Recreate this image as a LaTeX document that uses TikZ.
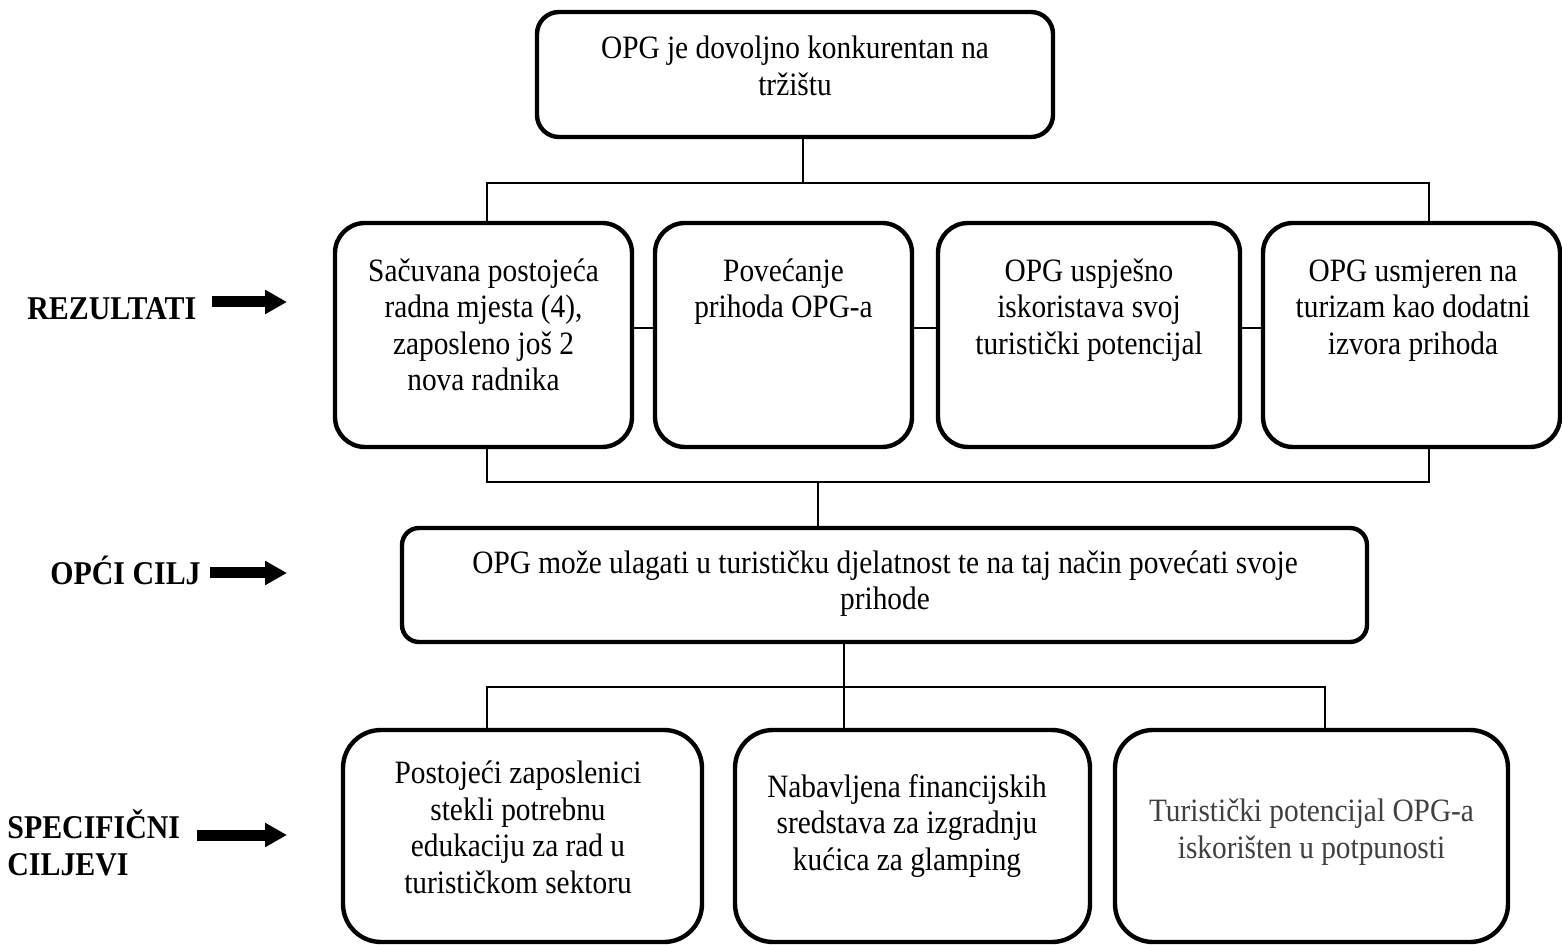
\documentclass[tikz,border=0pt]{standalone}
\usepackage{fontspec}
\setmainfont{Liberation Serif}[FakeStretch=0.9]
\usetikzlibrary{arrows.meta}
\definecolor{txtgray}{HTML}{404040}
\begin{document}
\begin{tikzpicture}[x=0.5pt,y=-0.5pt,
  box/.style={draw, line width=2.2pt, inner sep=0pt, rectangle},
  conn/.style={line width=0.85pt},
  txt/.style={font=\fontsize{16.3}{18.25}\selectfont, align=center, inner sep=0pt, anchor=north},
  lab/.style={font=\fontsize{16.6}{18.25}\selectfont\bfseries, inner sep=0pt},
  bigarrow/.style={line width=5.5pt, -{Triangle[length=11pt,width=11.5pt]}}]
\useasboundingbox (0,0) rectangle (1562,945);

% top box
\node[box, rounded corners=11pt, minimum width=258pt, minimum height=62.5pt] (top) at (795,74.5) {};
\node[txt] (topt) at (795,33) {\strut OPG je dovoljno konkurentan na\\tržištu};

% result boxes
\node[box, rounded corners=15pt, minimum width=148.5pt, minimum height=112pt] (r1) at (483.5,335) {};
\node[box, rounded corners=15pt, minimum width=128.5pt, minimum height=112pt] (r2) at (783.5,335) {};
\node[box, rounded corners=15pt, minimum width=151pt, minimum height=112pt] (r3) at (1089,335) {};
\node[box, rounded corners=15pt, minimum width=148.5pt, minimum height=112pt] (r4) at (1411.5,335) {};
\node[txt] (r1t) at (483.5,255.5) {\strut Sačuvana postojeća\\radna mjesta (4),\\zaposleno još 2\\nova radnika};
\node[txt] (r2t) at (783.5,255.5) {\strut Povećanje\\prihoda OPG-a};
\node[txt] (r3t) at (1089,255.5) {\strut OPG uspješno\\iskoristava svoj\\turistički potencijal};
\node[txt] (r4t) at (1413,255.5) {\strut OPG usmjeren na\\turizam kao dodatni\\izvora prihoda};

% middle box
\node[box, rounded corners=8.5pt, minimum width=482.5pt, minimum height=57pt] (mid) at (884.5,585) {};
\node[txt] (midt) at (885,547.5) {\strut OPG može ulagati u turističku djelatnost te na taj način povećati svoje\\prihode};

% bottom boxes
\node[box, rounded corners=19pt, minimum width=179.5pt, minimum height=106pt] (b1) at (522.5,836) {};
\node[box, rounded corners=19pt, minimum width=177.5pt, minimum height=106pt] (b2) at (912.5,836) {};
\node[box, rounded corners=19pt, minimum width=196.5pt, minimum height=106pt] (b3) at (1311.5,836) {};
\node[txt] (b1t) at (518,758) {\strut Postojeći zaposlenici\\stekli potrebnu\\edukaciju za rad u\\turističkom sektoru};
\node[txt] (b2t) at (907,771.5) {\strut Nabavljena financijskih\\sredstava za izgradnju\\kućica za glamping};
\node[txt, text=txtgray] (b3t) at (1311.5,796) {\strut Turistički potencijal OPG-a\\iskorišten u potpunosti};

% labels
\node[lab, anchor=base west] (l1) at (27,320) {REZULTATI};
\node[lab, anchor=base west] (l2) at (50,585) {OPĆI CILJ};
\node[lab, anchor=north west, align=left] (l3) at (7,809.5) {\strut SPECIFIČNI\\CILJEVI};

% arrows
\coordinate (a1s) at (212,302); \coordinate (a1e) at (287,302);
\coordinate (a2s) at (210,573); \coordinate (a2e) at (287,573);
\coordinate (a3s) at (197,835); \coordinate (a3e) at (287,835);
\draw[bigarrow] (a1s) -- (a1e);
\draw[bigarrow] (a2s) -- (a2e);
\draw[bigarrow] (a3s) -- (a3e);

% connectors
\coordinate (hL) at (487,183); \coordinate (hR) at (1429,183);
\coordinate (hT) at (803,183);
\draw[conn] (hT |- top.south) -- (hT);
\draw[conn] (hL |- r1.north) -- (hL) -- (hR) -- (hR |- r4.north);
\draw[conn] ([yshift=3.5pt]r1.east) -- ([yshift=3.5pt]r2.west);
\draw[conn] ([yshift=3.5pt]r2.east) -- ([yshift=3.5pt]r3.west);
\draw[conn] ([yshift=3.5pt]r3.east) -- ([yshift=3.5pt]r4.west);
\coordinate (gL) at (487,482); \coordinate (gR) at (1429,482);
\coordinate (gM) at (818,482);
\draw[conn] (gL |- r1.south) -- (gL) -- (gR) -- (gR |- r4.south);
\draw[conn] (gM) -- (gM |- mid.north);
\coordinate (kL) at (487,687); \coordinate (kR) at (1325,687);
\coordinate (kM) at (844,687);
\draw[conn] (kM |- mid.south) -- (kM |- b2.north);
\draw[conn] (kL |- b1.north) -- (kL) -- (kR) -- (kR |- b3.north);
\end{tikzpicture}
\end{document}
